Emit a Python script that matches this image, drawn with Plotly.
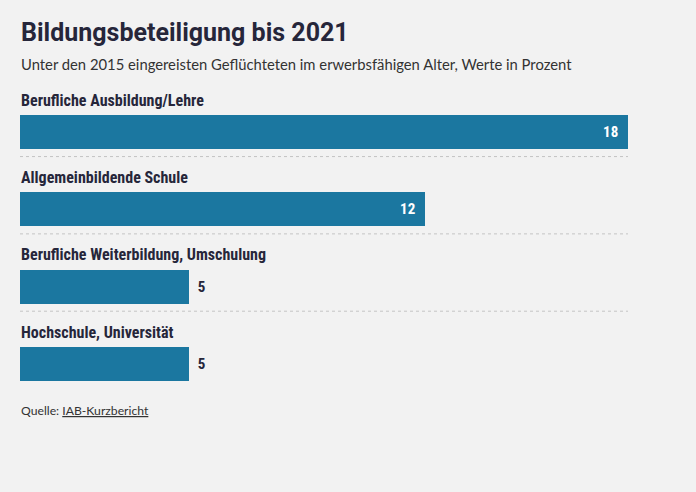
import plotly.graph_objects as go

categories = [
    "Berufliche Ausbildung/Lehre",
    "Allgemeinbildende Schule",
    "Berufliche Weiterbildung, Umschulung",
    "Hochschule, Universität",
]
values = [18, 12, 5, 5]
label_pos = ["inside", "inside", "outside", "outside"]

title = "Bildungsbeteiligung bis 2021"
subtitle = "Unter den 2015 eingereisten Geflüchteten im erwerbsfähigen Alter, Werte in Prozent"
source = "Quelle: <u>IAB-Kurzbericht</u>"

W, H = 696, 492
ML, MR, MT, MB = 20, 68, 80, 102
PH = H - MT - MB

def py(pix):
    # pixel from top -> paper y
    return 1 - (pix - MT) / PH

BAR = "#1b77a0"
DARK = "#26263a"
BG = "#f2f2f2"
COND = "Roboto Condensed, DejaVu Sans Condensed, Roboto, sans-serif"

ypos = list(range(len(categories)))
texts = [
    (str(v) + "\u2002") if p == "inside" else ("\u2009\u2009" + str(v))
    for v, p in zip(values, label_pos)
]

fig = go.Figure(go.Bar(
    x=values, y=ypos, orientation="h",
    marker=dict(color=BAR, line=dict(width=0)),
    width=0.44,
    text=texts,
    textposition=label_pos,
    insidetextanchor="end",
    insidetextfont=dict(family=COND, size=15, color="white", weight="bold"),
    outsidetextfont=dict(family=COND, size=15, color=DARK, weight="bold"),
    cliponaxis=False,
    hoverinfo="skip",
))

annotations = []
for i, c in enumerate(categories):
    annotations.append(dict(
        x=0, y=i, xref="x", yref="y", text=c, showarrow=False,
        xanchor="left", yanchor="middle", yshift=32, xshift=-1,
        font=dict(family=COND, size=16, color=DARK, weight="bold"),
    ))

shapes = []
for i in range(len(categories) - 1):
    shapes.append(dict(
        type="line", xref="x", yref="y", x0=0, x1=max(values),
        y0=i + 0.317, y1=i + 0.317,
        line=dict(color="#c4c4c4", width=1, dash="dot"),
    ))

annotations += [
    dict(x=0, y=py(32), xref="paper", yref="paper", text=f"<b>{title}</b>",
         showarrow=False, xanchor="left", yanchor="middle", xshift=-1,
         font=dict(family="Roboto, sans-serif", size=25, color=DARK)),
    dict(x=0, y=py(64), xref="paper", yref="paper", text=subtitle,
         showarrow=False, xanchor="left", yanchor="middle", xshift=-1,
         font=dict(family="Lato, sans-serif", size=14.8, color="#333333")),
    dict(x=0, y=py(411), xref="paper", yref="paper", text=source,
         showarrow=False, xanchor="left", yanchor="middle", xshift=-1,
         font=dict(family="Lato, sans-serif", size=12.2, color="#333333")),
]

fig.update_layout(
    width=W, height=H,
    margin=dict(l=ML, r=MR, t=MT, b=MB, pad=0),
    paper_bgcolor=BG, plot_bgcolor=BG,
    showlegend=False,
    xaxis=dict(range=[0, max(values)], visible=False, fixedrange=True),
    yaxis=dict(range=[3.336, -0.673], visible=False, fixedrange=True),
    annotations=annotations, shapes=shapes,
    bargap=0,
)

fig.write_html(
    "out.html",
    config={"displayModeBar": False},
    post_script="document.body.style.margin='0';document.body.style.background='#f2f2f2';",
)
